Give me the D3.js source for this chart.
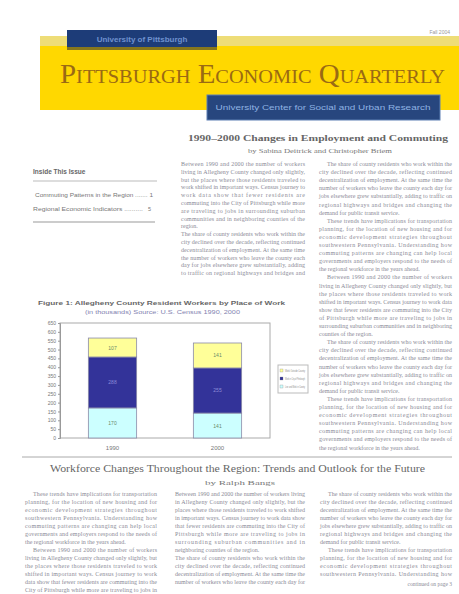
<!DOCTYPE html>
<html><head><meta charset="utf-8">
<script src="https://cdn.jsdelivr.net/npm/d3@7"></script>
<style>body{margin:0;background:#fff;overflow:hidden} svg{display:block}</style>
</head><body><div id="c"></div>
<script>
// ---------- chart data ----------
const categories = ["1990", "2000"];
const seriesNames = ["Live and Work in County", "Work in City of Pittsburgh", "Work Outside County"];
const seriesLowValues = [170, 141];   // thousands (bottom segment)
const seriesMidValues = [288, 255];   // thousands (middle segment)
const seriesTopValues = [107, 141];   // thousands (top segment)
const yTicks = [0, 50, 100, 150, 200, 250, 300, 350, 400, 450, 500, 550, 600, 650];
const seriesColors = ["#CCFFFF", "#333399", "#FFFF99"];

// ---------- page text ----------
const para = [
 "Between 1990 and 2000 the number of workers living in Allegheny County changed only slightly, but the places where those residents traveled to work shifted in important ways. Census journey to work data show that fewer residents are commuting into the City of Pittsburgh while more are traveling to jobs in surrounding suburban communities and in neighboring counties of the region.",
 "The share of county residents who work within the city declined over the decade, reflecting continued decentralization of employment. At the same time the number of workers who leave the county each day for jobs elsewhere grew substantially, adding to traffic on regional highways and bridges and changing the demand for public transit service.",
 "These trends have implications for transportation planning, for the location of new housing and for economic development strategies throughout southwestern Pennsylvania. Understanding how commuting patterns are changing can help local governments and employers respond to the needs of the regional workforce in the years ahead."
];

const W = 459, H = 594;
const svg = d3.select("#c").append("svg").attr("width", W).attr("height", H);

// ---------- masthead ----------
svg.append("rect").attr("x", 40).attr("y", 36).attr("width", 419).attr("height", 74).attr("fill", "#ffd800");
svg.append("rect").attr("x", 40).attr("y", 36).attr("width", 419).attr("height", 10).attr("fill", "#eedd77");
svg.append("rect").attr("x", 67).attr("y", 46).attr("width", 150).attr("height", 4).attr("fill", "#86761c");
svg.append("rect").attr("x", 67).attr("y", 30).attr("width", 150).attr("height", 17).attr("fill", "#1d3c78");
svg.append("text").attr("x", 142).attr("y", 42).attr("text-anchor", "middle")
  .attr("font-family", "Liberation Sans").attr("font-size", 8).attr("font-weight", "bold")
  .attr("fill", "#6f92cf").text("University of Pittsburgh");
svg.append("text").attr("x", 450).attr("y", 34).attr("text-anchor", "end")
  .attr("font-family", "Liberation Sans").attr("font-size", 5).attr("fill", "#999").text("Fall 2004");
svg.append("text").attr("x", 60).attr("y", 83)
  .attr("font-family", "Liberation Serif").attr("font-size", 27)
  .style("font-variant", "small-caps").attr("fill", "#9a6a14")
  .attr("textLength", 385).attr("lengthAdjust", "spacingAndGlyphs")
  .text("Pittsburgh Economic Quarterly");
svg.append("rect").attr("x", 207).attr("y", 95).attr("width", 233).attr("height", 25).attr("fill", "#27467e")
  .attr("stroke", "#5d7fb3").attr("stroke-width", 1);
svg.append("text").attr("x", 323).attr("y", 110).attr("text-anchor", "middle")
  .attr("font-family", "Liberation Sans").attr("font-size", 7).attr("fill", "#8fb2e2")
  .attr("textLength", 215).attr("lengthAdjust", "spacingAndGlyphs")
  .text("University Center for Social and Urban Research");

// ---------- headlines ----------
svg.append("text").attr("x", 188).attr("y", 141)
  .attr("font-family", "Liberation Serif").attr("font-size", 9).attr("font-weight", "bold").attr("fill", "#666")
  .attr("textLength", 260).attr("lengthAdjust", "spacingAndGlyphs")
  .text("1990–2000 Changes in Employment and Commuting");
svg.append("text").attr("x", 248).attr("y", 153)
  .attr("font-family", "Liberation Serif").attr("font-size", 5.5).attr("fill", "#777")
  .attr("textLength", 144).attr("lengthAdjust", "spacingAndGlyphs")
  .text("by Sabina Deitrick and Christopher Briem");

// inside box
const ib = svg.append("g").attr("font-family", "Liberation Sans").attr("fill", "#777");
ib.append("text").attr("x", 33).attr("y", 174).attr("font-size", 6.5).attr("font-weight", "bold").attr("fill", "#666").text("Inside This Issue");
ib.append("line").attr("x1", 33).attr("x2", 157).attr("y1", 181).attr("y2", 181).attr("stroke", "#bbb");
ib.append("text").attr("x", 35).attr("y", 197).attr("font-size", 5.5).attr("textLength", 118).attr("lengthAdjust", "spacingAndGlyphs").text("Commuting Patterns in the Region ....... 1");
ib.append("text").attr("x", 33).attr("y", 211).attr("font-size", 5.5).attr("textLength", 110).attr("lengthAdjust", "spacingAndGlyphs").text("Regional Economic Indicators ..........");
ib.append("text").attr("x", 148).attr("y", 211).attr("font-size", 5.5).text("5");
ib.append("line").attr("x1", 33).attr("x2", 155).attr("y1", 222).attr("y2", 222).attr("stroke", "#999").attr("stroke-width", 1.2);

// ---------- text column helper ----------
function fillColumn(x, y0, width, yMax, lh, paras, fs, indent) {
  const g = svg.append("g").attr("font-family", "Liberation Serif").attr("font-size", fs).attr("fill", "#8a8a96");
  let y = y0, pi = 0;
  const meas = g.append("text").attr("x", -999).attr("y", -999);
  const width_of = s => { meas.text(s); return meas.node().getComputedTextLength(); };
  while (y <= yMax) {
    const words = paras[pi % paras.length].split(" ");
    let line = [], first = true;
    for (let i = 0; i < words.length && y <= yMax; i++) {
      const ind = first ? indent : 0;
      const trial = line.concat(words[i]).join(" ");
      if (width_of(trial) > width - ind && line.length) {
        g.append("text").attr("x", x + ind).attr("y", y).attr("textLength", width - ind)
          .attr("lengthAdjust", "spacing").text(line.join(" "));
        y += lh; line = [words[i]]; first = false;
      } else line.push(words[i]);
    }
    if (y <= yMax && line.length) {
      g.append("text").attr("x", x + (first ? indent : 0)).attr("y", y).text(line.join(" "));
      y += lh;
    }
    pi++;
  }
  meas.remove();
  return g;
}

fillColumn(181, 166, 124, 282, 7.8, para, 6, 0);
fillColumn(319, 166, 133, 453, 8.1, [para[1], para[2], para[0]], 6, 8);

// ---------- figure ----------
svg.append("text").attr("x", 38).attr("y", 305)
  .attr("font-family", "Liberation Sans").attr("font-size", 6).attr("font-weight", "bold").attr("fill", "#666")
  .attr("textLength", 247).attr("lengthAdjust", "spacingAndGlyphs")
  .text("Figure 1: Allegheny County Resident Workers by Place of Work");
svg.append("text").attr("x", 85).attr("y", 314)
  .attr("font-family", "Liberation Sans").attr("font-size", 5.5).attr("fill", "#8282b0")
  .attr("textLength", 155).attr("lengthAdjust", "spacingAndGlyphs")
  .text("(in thousands) Source: U.S. Census 1990, 2000");

const plot = {left: 60, right: 270, top: 323, bottom: 438};
const x = d3.scaleBand().domain(categories).range([plot.left, plot.right]).paddingInner(0.54).paddingOuter(0.27);
const y = d3.scaleLinear().domain([0, 650]).range([plot.bottom, plot.top]);

svg.append("rect").attr("x", plot.left).attr("y", plot.top)
  .attr("width", plot.right - plot.left).attr("height", plot.bottom - plot.top)
  .attr("fill", "#fff").attr("stroke", "#aaa").attr("stroke-width", 1);

const yAxis = svg.append("g").attr("transform", `translate(${plot.left},0)`)
  .call(d3.axisLeft(y).tickValues(yTicks).tickSize(2).tickPadding(2));
yAxis.select(".domain").attr("stroke", "#999");
yAxis.selectAll(".tick line").attr("stroke", "#999");
yAxis.selectAll("text").attr("font-size", 5).attr("font-family", "Liberation Sans").attr("fill", "#777");

const table = categories.map((c, i) => ({cat: c, s0: seriesLowValues[i], s1: seriesMidValues[i], s2: seriesTopValues[i]}));
const stack = d3.stack().keys(["s0", "s1", "s2"])(table);
const layers = svg.append("g").selectAll("g").data(stack).join("g").attr("fill", (d, i) => seriesColors[i]);
layers.selectAll("rect").data(d => d).join("rect")
  .attr("x", d => x(d.data.cat)).attr("width", x.bandwidth())
  .attr("y", d => y(d[1])).attr("height", d => y(d[0]) - y(d[1]))
  .attr("stroke", "#8a8aa8").attr("stroke-width", 0.8);
layers.each(function(layer, li) {
  d3.select(this).selectAll("text").data(layer).join("text")
    .attr("x", d => x(d.data.cat) + x.bandwidth() / 2)
    .attr("y", d => (y(d[0]) + y(d[1])) / 2 + 2)
    .attr("text-anchor", "middle").attr("font-size", 5).attr("font-family", "Liberation Sans")
    .attr("fill", li === 1 ? "#8c8cd8" : "#6a8a6a")
    .text(d => d[1] - d[0]);
});

svg.append("g").selectAll("text").data(categories).join("text")
  .attr("x", d => x(d) + x.bandwidth() / 2).attr("y", 450).attr("text-anchor", "middle")
  .attr("font-size", 6).attr("font-family", "Liberation Sans").attr("fill", "#777").text(d => d);

// legend
const lg = svg.append("g");
lg.append("rect").attr("x", 278).attr("y", 365).attr("width", 30).attr("height", 28)
  .attr("fill", "#fff").attr("stroke", "#bbb");
const legendOrder = [2, 1, 0];
lg.selectAll("g").data(legendOrder).join("g").each(function(si, k) {
  const g = d3.select(this);
  g.append("rect").attr("x", 280).attr("y", 369 + k * 8).attr("width", 3).attr("height", 3)
    .attr("fill", seriesColors[si]).attr("stroke", "#888").attr("stroke-width", 0.3);
  g.append("text").attr("x", 285).attr("y", 372 + k * 8).attr("font-size", 3.5)
    .attr("font-family", "Liberation Sans").attr("fill", "#888")
    .attr("textLength", 20).attr("lengthAdjust", "spacingAndGlyphs").text(seriesNames[si]);
});

// ---------- lower article ----------
svg.append("line").attr("x1", 22).attr("x2", 452).attr("y1", 457).attr("y2", 457).attr("stroke", "#aaa").attr("stroke-width", 1);
svg.append("text").attr("x", 50).attr("y", 472)
  .attr("font-family", "Liberation Serif").attr("font-size", 9.5).attr("fill", "#666")
  .attr("textLength", 375).attr("lengthAdjust", "spacingAndGlyphs")
  .text("Workforce Changes Throughout the Region: Trends and Outlook for the Future");
svg.append("text").attr("x", 205).attr("y", 485)
  .attr("font-family", "Liberation Serif").attr("font-size", 5.5).attr("fill", "#777")
  .attr("textLength", 70).attr("lengthAdjust", "spacingAndGlyphs").text("by Ralph Bangs");

fillColumn(25, 496, 132, 592, 8, [para[2], para[0]], 6, 8);
fillColumn(175, 496, 130, 590, 8, [para[0], para[1]], 6, 0);
fillColumn(320, 496, 132, 576, 8, [para[1], para[2]], 6, 8);
svg.append("text").attr("x", 452).attr("y", 586).attr("text-anchor", "end")
  .attr("font-family", "Liberation Serif").attr("font-size", 5.5).attr("fill", "#8a8a96").text("continued on page 3");
</script>
</body></html>
